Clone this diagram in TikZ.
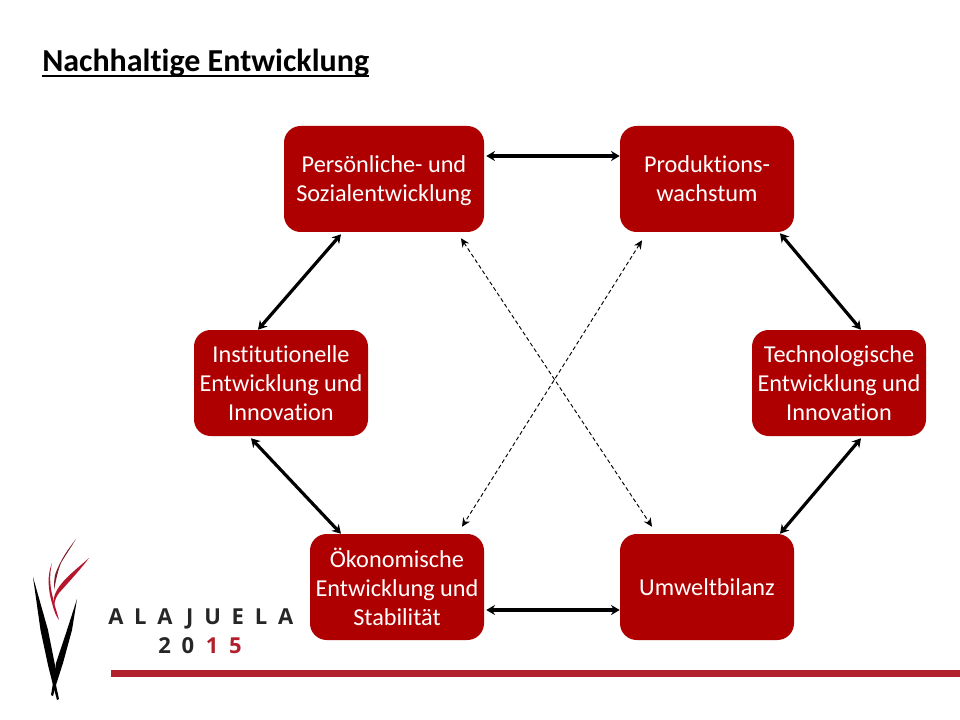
\documentclass[tikz,border=0pt]{standalone}
\usepackage{fontspec}
\setmainfont[Ligatures=NoCommon]{Carlito}
\newfontfamily\logofont[LetterSpace=49]{Open Sans}
\definecolor{boxred}{HTML}{AE0000}
\definecolor{linered}{HTML}{B2202E}
\definecolor{frond}{HTML}{B5162B}
\definecolor{darkfrond}{HTML}{7A1F2A}
\usetikzlibrary{arrows.meta}
\tikzset{
  x=0.75pt,y=-0.75pt,
  rbox/.style={draw=none,fill=boxred,rounded corners=12.5pt,text=white,align=center,
    inner sep=0pt,text depth=0pt,font=\fontsize{18.2}{21.7}\selectfont},
  solidarrow/.style={line width=2.4pt,{Stealth[length=6.5pt,width=7.5pt]}-{Stealth[length=6.5pt,width=7.5pt]}},
  dasharrow/.style={line width=0.7pt,dash pattern=on 3pt off 2pt,{Stealth[length=6.5pt,width=6pt]}-{Stealth[length=6.5pt,width=6pt]}},
}
\begin{document}
\begin{tikzpicture}
\useasboundingbox (0,0) rectangle (960,720);
\fill[white] (0,0) rectangle (960,720);
\node[anchor=base west,inner sep=0pt,font=\fontsize{24}{28}\selectfont\bfseries] (title) at (42,71.5) {Nachhaltige Entwicklung};
\draw[line width=1.6pt] ([yshift=-3.2pt]title.base west) -- ([yshift=-3.2pt]title.base east);

\node[rbox,minimum width=150pt,minimum height=79.5pt] (A) at (384,179) {Persönliche- und\\Sozialentwicklung};
\node[rbox,minimum width=130.5pt,minimum height=79.5pt] (B) at (707,179) {Produktions-\\wachstum};
\node[rbox,minimum width=130.5pt,minimum height=79.5pt] (C) at (281,383) {Institutionelle\\Entwicklung und\\Innovation};
\node[rbox,minimum width=130.5pt,minimum height=79.5pt] (D) at (839,383) {Technologische\\Entwicklung und\\Innovation};
\node[rbox,minimum width=130.5pt,minimum height=79.5pt] (E) at (397,587) {Ökonomische\\Entwicklung und\\Stabilität};
\node[rbox,minimum width=130.5pt,minimum height=79.5pt] (F) at (707,587) {Umweltbilanz};

\draw[solidarrow] ([shift={(2,-23)}]A.east) -- ([shift={(0,-23)}]B.west);
\draw[solidarrow] ([shift={(-43,2)}]A.south) -- ([shift={(-23,0)}]C.north);
\draw[solidarrow] ([shift={(73,1)}]B.south) -- ([shift={(22,0)}]D.north);
\draw[solidarrow] ([shift={(-30,2)}]C.south) -- ([shift={(-56,0)}]E.north);
\draw[solidarrow] ([shift={(22,2)}]D.south) -- ([shift={(73,0)}]F.north);
\draw[solidarrow] ([shift={(2,23)}]E.east) -- ([shift={(0,23)}]F.west);
\draw[dasharrow] ([shift={(77,6)}]A.south) -- ([shift={(-55,-7)}]F.north);
\draw[dasharrow] ([shift={(-65,8)}]B.south) -- ([shift={(65,-7)}]E.north);

% logo
\fill[black] (33,577) -- (40.5,630) -- (48,665) -- (53,685) -- (57,700) -- (59,699) -- (56,685) -- (55,665) -- (48,630) -- cycle;
\fill[black] (77,599) -- (72,630) -- (63,663) -- (56,685) -- (53,696) -- (51,695) -- (53,683) -- (56,663) -- (67,630) -- cycle;
\fill[frond] (89,558) .. controls (78,568) and (64,578) .. (57,590) .. controls (54,595) and (53,600) .. (54,606)
  .. controls (55,600) and (56,597) .. (59,593) .. controls (67,584) and (80,570) .. (89,558) -- cycle;
\fill[darkfrond] (76,539) .. controls (69,548) and (60,560) .. (55,575) .. controls (54,580) and (54,586) .. (54,590)
  .. controls (56,580) and (58,570) .. (61,563) .. controls (65,556) and (70,549) .. (76,539) -- cycle;
\fill[frond] (52,563) .. controls (47,575) and (48,590) .. (52,603) .. controls (54,611) and (56,616) .. (59,620)
  .. controls (57,612) and (54,604) .. (53,598) .. controls (50,588) and (49,575) .. (52,563) -- cycle;

\node[anchor=base west,inner sep=0pt,font=\fontsize{16.5}{20}\bfseries\logofont\selectfont,text=black!85] (alajuela) at (108,624) {ALAJUELA};
\node[anchor=base west,inner sep=0pt,font=\fontsize{16.5}{20}\bfseries\logofont\selectfont,text=black!85] (year) at (158,653) {20\kern0.53em\textcolor{linered}{15}};
\fill[linered] (111,670) rectangle (960,677);
\end{tikzpicture}
\end{document}
